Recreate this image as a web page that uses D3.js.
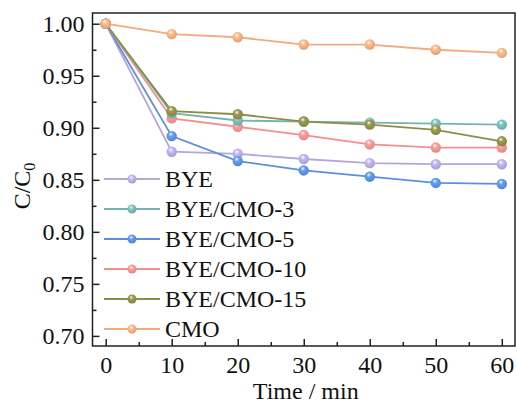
<!DOCTYPE html>
<html>
<head>
<meta charset="utf-8">
<script src="https://cdn.jsdelivr.net/npm/d3@7"></script>
<style>
body { margin: 0; background: #fff; }
text { font-family: "Liberation Serif", "Times New Roman", Times, serif; fill: #111; }
</style>
</head>
<body>
<script>
var width = 517,
    height = 405;

var times = [0, 10, 20, 30, 40, 50, 60];
var names = ["BYE", "BYE/CMO-3", "BYE/CMO-5", "BYE/CMO-10", "BYE/CMO-15", "CMO"];
var colors = ["#b4a7dd", "#72b5b0", "#5b8fdc", "#f38f8f", "#8e8d48", "#f1ab7e"];
var bye    = [1.000, 0.877, 0.875, 0.870, 0.866, 0.865, 0.865];
var cmo3   = [1.000, 0.914, 0.907, 0.906, 0.905, 0.904, 0.903];
var cmo5   = [1.000, 0.892, 0.868, 0.859, 0.853, 0.847, 0.846];
var cmo10  = [1.000, 0.909, 0.901, 0.893, 0.884, 0.881, 0.881];
var cmo15  = [1.000, 0.916, 0.913, 0.906, 0.903, 0.898, 0.887];
var cmo    = [1.000, 0.990, 0.987, 0.980, 0.980, 0.975, 0.972];
var series = [bye, cmo3, cmo5, cmo10, cmo15, cmo];
var yTicks = [0.70, 0.75, 0.80, 0.85, 0.90, 0.95, 1.00];
var xTicks = [0, 10, 20, 30, 40, 50, 60];

var margin = {left: 92.5, top: 13, right: 2, bottom: 59};

var svg = d3.select('body')
    .append('svg')
    .attr('width', width)
    .attr('height', height);

// shiny marker gradients
var defs = svg.append('defs');
colors.forEach(function(c, i) {
    var gr = defs.append('radialGradient')
        .attr('id', 'g' + i)
        .attr('cx', '45%').attr('cy', '40%').attr('r', '60%')
        .attr('fx', '40%').attr('fy', '30%');
    gr.append('stop').attr('offset', '0%').attr('stop-color', '#fff');
    gr.append('stop').attr('offset', '35%').attr('stop-color', d3.color(c).brighter(0.3));
    gr.append('stop').attr('offset', '100%').attr('stop-color', d3.color(c).darker(0.2));
});

var x = d3.scaleLinear().domain([-2, 62]).range([margin.left, width - margin.right]);
var y = d3.scaleLinear().domain([0.6903, 1.0103]).range([height - margin.bottom, margin.top]);

var g = svg.append('g');

// frame
g.append('rect')
    .attr('x', x(-2)).attr('y', y(1.0103))
    .attr('width', x(62) - x(-2)).attr('height', y(0.6903) - y(1.0103))
    .attr('fill', 'none').attr('stroke', '#222').attr('stroke-width', 1.5);

// x axis, ticks inside
var xAxis = d3.axisBottom(x).tickValues(xTicks).tickSize(-7).tickPadding(10).tickFormat(d3.format('d'));
var xa = g.append('g').attr('transform', 'translate(0,' + y(0.6903) + ')').call(xAxis);
xa.select('.domain').remove();
xa.selectAll('line').attr('stroke', '#222').attr('stroke-width', 1.5);
xa.selectAll('text').style('font-size', '24px').attr('fill', '#111');
var xMinor = d3.axisBottom(x).tickValues([5, 15, 25, 35, 45, 55]).tickSize(-4).tickFormat('');
var xm = g.append('g').attr('transform', 'translate(0,' + y(0.6903) + ')').call(xMinor);
xm.select('.domain').remove();
xm.selectAll('line').attr('stroke', '#222').attr('stroke-width', 1.5);

// y axis, ticks inside
var yAxis = d3.axisLeft(y).tickValues(yTicks).tickSize(-7).tickPadding(8).tickFormat(d3.format('.2f'));
var ya = g.append('g').attr('transform', 'translate(' + x(-2) + ',0)').call(yAxis);
ya.select('.domain').remove();
ya.selectAll('line').attr('stroke', '#222').attr('stroke-width', 1.5);
ya.selectAll('text').style('font-size', '24px').attr('fill', '#111');
var yMinor = d3.axisLeft(y).tickValues([0.725, 0.775, 0.825, 0.875, 0.925, 0.975]).tickSize(-4).tickFormat('');
var ym = g.append('g').attr('transform', 'translate(' + x(-2) + ',0)').call(yMinor);
ym.select('.domain').remove();
ym.selectAll('line').attr('stroke', '#222').attr('stroke-width', 1.5);

// titles
svg.append('text')
    .attr('x', (x(-2) + x(62)) / 2 + 2).attr('y', 399)
    .attr('text-anchor', 'middle')
    .style('font-size', '24px')
    .text('Time / min');

var yl = svg.append('text')
    .attr('transform', 'translate(30,186) rotate(-90)')
    .attr('text-anchor', 'middle')
    .style('font-size', '24px');
yl.append('tspan').text('C/C');
yl.append('tspan').attr('dy', 5).style('font-size', '16px').text('0');

// lines
var line = d3.line()
    .x(function(d, i) { return x(times[i]); })
    .y(function(d) { return y(d); });

var order = [0, 2, 3, 1, 4, 5];
order.forEach(function(k) {
    g.append('path')
        .datum(series[k])
        .attr('fill', 'none')
        .attr('stroke', colors[k])
        .attr('stroke-width', 1.8)
        .attr('d', line);
    g.selectAll('.m' + k)
        .data(series[k])
        .enter()
        .append('circle')
        .attr('class', 'm' + k)
        .attr('cx', function(d, i) { return x(times[i]); })
        .attr('cy', function(d) { return y(d); })
        .attr('r', 5.2)
        .attr('fill', 'url(#g' + k + ')');
});

// legend
var leg = svg.append('g');
names.forEach(function(n, i) {
    var ly = 179 + i * 30;
    leg.append('line')
        .attr('x1', 104).attr('x2', 160)
        .attr('y1', ly).attr('y2', ly)
        .attr('stroke', colors[i]).attr('stroke-width', 1.8);
    leg.append('circle')
        .attr('cx', 132).attr('cy', ly).attr('r', 4.5)
        .attr('fill', 'url(#g' + i + ')');
    leg.append('text')
        .attr('x', 165).attr('y', ly + 8)
        .style('font-size', '24px')
        .text(n);
});
</script>
</body>
</html>
